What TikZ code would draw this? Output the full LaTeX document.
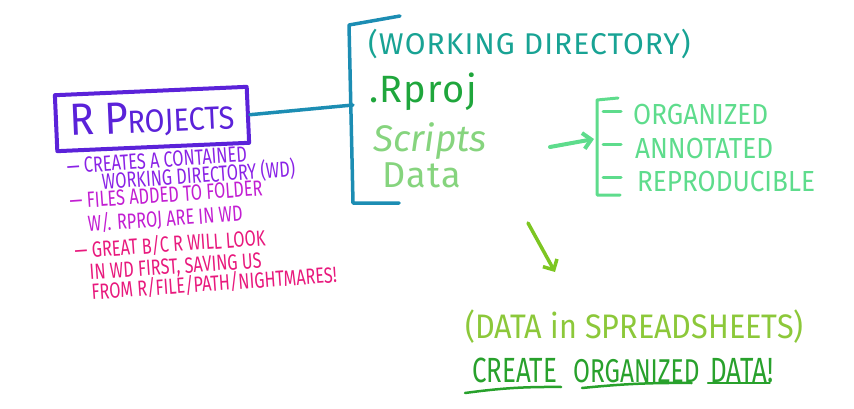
\documentclass[tikz,border=0pt]{standalone}
\usepackage{xcolor}
\usepackage{tikz}
\usepackage{fontspec}
\setmainfont{Fira Sans}
\newfontfamily\handwide[LetterSpace=3.5]{Fira Sans}
\newfontfamily\hand[FakeStretch=0.9]{Fira Sans}
\newfontfamily\handnarrow[FakeStretch=0.74]{Fira Sans}
\newcommand\tightlines{\lineskiplimit-40pt\relax}
\usetikzlibrary{calc,arrows.meta}
\definecolor{rpviolet}{HTML}{5B22D9}
\definecolor{rpbullet}{HTML}{8A22E6}
\definecolor{rpmagenta}{HTML}{C21ED2}
\definecolor{rppink}{HTML}{E8197D}
\definecolor{wdline}{HTML}{1C8DB3}
\definecolor{wdtext}{HTML}{18A394}
\definecolor{wdgreen}{HTML}{1FA63C}
\definecolor{wdlight}{HTML}{86D47E}
\definecolor{orgmint}{HTML}{5EDC8C}
\definecolor{sslime}{HTML}{7DC622}
\definecolor{sstext}{HTML}{8CC83A}
\definecolor{ssgreen}{HTML}{28A12C}

\begin{document}
\begin{tikzpicture}[x=1pt, y=-1pt, line cap=round, line join=round,
    label/.style={inner sep=0pt, anchor=base west},
    orgitem/.style={label, text=orgmint, font=\hand\fontsize{29}{29}\selectfont},
    sword/.style={label, text=ssgreen, font=\handnarrow\fontsize{35}{35}\selectfont},
    uline/.style={ssgreen, line width=2.5pt}]
  \useasboundingbox (0,0) rectangle (854,409);

  \node[draw=rpviolet, line width=4pt, text=rpviolet, rotate=2.5,
        minimum width=192pt, minimum height=56pt, inner sep=0pt] (proj) at (152,119)
    {\hand{\fontsize{45}{45}\selectfont R P}{\fontsize{32}{32}\selectfont ROJECTS}};

  \node[inner sep=0pt, anchor=north west, rotate=4, align=left,
        font=\handnarrow\fontsize{22}{17}\selectfont\tightlines] (notes) at (66,158.5)
    {\color{rpbullet}— CREATES A CONTAINED\\[1pt]
     \color{rpbullet}\hspace*{34pt}WORKING DIRECTORY (WD)\\
     \color{rpmagenta}\hspace*{0.5pt}— FILES ADDED TO FOLDER\\[7pt]
     \color{rpmagenta}\hspace*{17pt}W/. RPROJ ARE IN WD\\[9pt]
     \color{rppink}\hspace*{2pt}— GREAT B/C R WILL LOOK\\[5pt]
     \color{rppink}\hspace*{15.5pt}IN WD FIRST, SAVING US\\[3pt]
     \color{rppink}\hspace*{16pt}FROM R/FILE/PATH/NIGHTMARES!};

  \coordinate (wdstub) at (353,105);
  \draw[wdline, line width=3.5pt] (400,16) -- (349,25) -- (353,203) -- (399,203);
  \draw[wdline, line width=3.5pt] (proj.east) -- (wdstub);

  \node[label, text=wdtext, font=\handwide\fontsize{30}{30}\selectfont] (wdtitle) at (368,55) {(WORKING DIRECTORY)};
  \node[label, text=wdgreen, font=\handwide\fontsize{38}{38}\selectfont] (rproj) at (369,103) {.Rproj};
  \node[label, text=wdlight, font=\itshape\fontsize{37}{37}\selectfont] (scripts) at (373,152) {Scripts};
  \node[label, text=wdlight, font=\handwide\fontsize{36}{36}\selectfont] (data) at (382,187) {Data};

  \coordinate (orgstart) at (550,147);
  \coordinate (orgmid) at (594,139);
  \draw[orgmint, line width=3pt] (618,98) -- (597,100) -- (597,195) -- (620,195);
  \foreach \y in {112,145,177}
    \draw[orgmint, line width=3pt] (603,\y) -- (621,\y);
  \draw[orgmint, line width=4pt, -{Straight Barb[length=8pt, width=16pt]}] (orgstart) -- (orgmid);

  \node[orgitem] (organized) at (633,125) {ORGANIZED};
  \node[orgitem] (annotated) at (635,159) {ANNOTATED};
  \node[orgitem] (reproducible) at (637,191) {REPRODUCIBLE};

  \coordinate (downstart) at (528,223);
  \node[label, text=sstext, font=\hand\fontsize{34}{34}\selectfont] (sheets) at (465,338) {(DATA in SPREADSHEETS)};
  \draw[sslime, line width=3.5pt, -{Straight Barb[length=8pt, width=16pt]}] (downstart) -- (555,272);

  \node[sword] (create) at (472,382) {CREATE};
  \node[sword, font=\handnarrow\fontsize{33}{33}\selectfont] (organized2) at (573,382) {ORGANIZED};
  \node[sword] (dataword) at (710,382) {DATA!};
  \draw[uline] ($(create.base west)+(-7,11)$) to[bend left=4] ($(create.base east)+(4,5)$);
  \draw[uline] ($(organized2.base west)+(9,6)$) to[bend left=3] ($(organized2.base east)+(-8,1)$);
  \draw[uline] ($(dataword.base west)+(-2,1)$) -- ($(dataword.base east)+(-4,1)$);
\end{tikzpicture}
\end{document}
